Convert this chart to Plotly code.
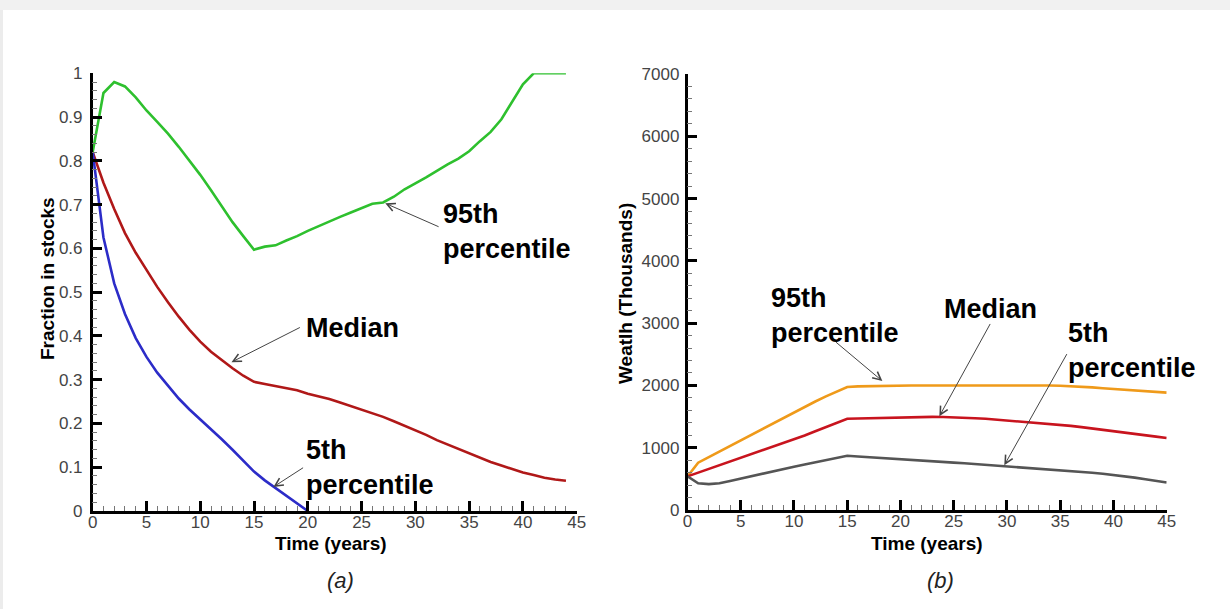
import plotly.graph_objects as go

# ---------------- data ----------------
years_a = list(range(0, 45))
frac_95 = [0.82, 0.955, 0.98, 0.97, 0.945, 0.915, 0.889, 0.862, 0.832, 0.80,
           0.768, 0.733, 0.695, 0.66, 0.628, 0.597, 0.604, 0.607, 0.618, 0.628,
           0.64, 0.651, 0.662, 0.672, 0.682, 0.692, 0.702, 0.705, 0.718, 0.735,
           0.748, 0.762, 0.777, 0.792, 0.805, 0.822, 0.845, 0.866, 0.895, 0.935,
           0.975, 1.0, 1.0, 1.0, 1.0]
frac_med = [0.82, 0.75, 0.69, 0.635, 0.59, 0.55, 0.512, 0.477, 0.444, 0.414,
            0.387, 0.364, 0.344, 0.326, 0.309, 0.295, 0.29, 0.285, 0.28, 0.276,
            0.268, 0.262, 0.256, 0.248, 0.24, 0.232, 0.224, 0.215, 0.205, 0.195,
            0.184, 0.174, 0.162, 0.152, 0.142, 0.132, 0.122, 0.112, 0.104, 0.096,
            0.088, 0.082, 0.076, 0.072, 0.069]
years_a5 = list(range(0, 21))
frac_05 = [0.82, 0.625, 0.52, 0.45, 0.395, 0.352, 0.316, 0.286, 0.257, 0.232,
           0.21, 0.188, 0.164, 0.14, 0.115, 0.09, 0.07, 0.052, 0.035, 0.018, 0.0]

years_b = list(range(0, 46))
wealth_95 = [540, 760, 850, 940, 1030, 1120, 1210, 1300, 1390, 1480,
             1570, 1657, 1742, 1825, 1902, 1975, 1985, 1990, 1993, 1995,
             1997, 1998, 1999, 2000, 2000, 2000, 2000, 2000, 2000, 2000,
             2000, 2000, 2000, 2000, 2000, 1995, 1990, 1980, 1968, 1955,
             1942, 1930, 1918, 1905, 1895, 1885]
wealth_med = [540, 600, 660, 720, 780, 840, 900, 960, 1015, 1072,
              1130, 1195, 1265, 1330, 1400, 1465, 1470, 1475, 1480, 1485,
              1490, 1492, 1494, 1495, 1494, 1490, 1482, 1473, 1465, 1452,
              1440, 1427, 1413, 1400, 1385, 1370, 1350, 1330, 1310, 1290,
              1270, 1245, 1220, 1200, 1178, 1155]
wealth_05 = [540, 430, 415, 430, 465, 505, 545, 585, 625, 660,
             695, 730, 765, 800, 835, 870, 860, 848, 835, 822,
             810, 800, 790, 780, 770, 760, 750, 738, 726, 712,
             700, 690, 678, 665, 652, 640, 626, 612, 598, 582,
             565, 545, 520, 495, 470, 440]

# ---------------- figure ----------------
FONT = "Liberation Sans, Arial, Helvetica, sans-serif"
W, H = 1230, 609
fig = go.Figure()

def line(x, y, color, xa, ya):
    fig.add_trace(go.Scatter(x=x, y=y, mode="lines", line=dict(color=color, width=2.6),
                             xaxis=xa, yaxis=ya, cliponaxis=False, showlegend=False,
                             hoverinfo="skip"))

line(years_a, frac_95, "#2ec02e", "x", "y")
line(years_a, frac_med, "#b01818", "x", "y")
line(years_a5, frac_05, "#2c2cc8", "x", "y")
line(years_b, wealth_95, "#ef9a1a", "x2", "y2")
line(years_b, wealth_med, "#c8141e", "x2", "y2")
line(years_b, wealth_05, "#555555", "x2", "y2")

def px_x(p):
    return p / W
def px_y(p):
    return 1 - p / H

TICKFONT = dict(family=FONT, size=17, color="#444444")
axis_common = dict(showline=True, linecolor="black", linewidth=2.5, showgrid=False, zeroline=False,
                   ticks="inside", ticklen=10, tickwidth=2.5, tickcolor="black",
                   tickfont=TICKFONT, automargin=False)
minor_x = dict(ticks="inside", dtick=1, ticklen=5, tickwidth=1, tickcolor="#777777")

fig.update_layout(
    width=W, height=H, margin=dict(l=0, r=0, t=0, b=0),
    paper_bgcolor="white", plot_bgcolor="white",
    xaxis=dict(domain=[px_x(92.7), px_x(576.7)], range=[0, 45], dtick=5, anchor="y",
               minor=minor_x, ticklabelstandoff=-6, **axis_common),
    yaxis=dict(domain=[px_y(511), px_y(73.3)], range=[0, 1], dtick=0.1, anchor="x",
               minor=dict(ticks="inside", dtick=0.02, ticklen=5, tickwidth=1, tickcolor="#777777"),
               ticklabelstandoff=4, **axis_common),
    xaxis2=dict(domain=[px_x(687.5), px_x(1166.7)], range=[0, 45], dtick=5, anchor="y2",
                minor=minor_x, ticklabelstandoff=-6, **axis_common),
    yaxis2=dict(domain=[px_y(510), px_y(74)], range=[0, 7000], dtick=1000, anchor="x2",
                minor=dict(ticks="inside", dtick=200, ticklen=5, tickwidth=1, tickcolor="#777777"),
                ticklabelstandoff=2, **axis_common),
)

TITLEFONT = dict(family=FONT, size=19, color="black")
def paper_text(x, y, text, font, angle=0, xanchor="center", yanchor="middle"):
    fig.add_annotation(x=px_x(x), y=px_y(y), xref="paper", yref="paper", text=text,
                       showarrow=False, textangle=angle, xanchor=xanchor, yanchor=yanchor,
                       align="left", font=font, borderpad=0)

# axis titles
paper_text(331, 543, "<b>Time (years)</b>", TITLEFONT)
paper_text(47, 278, "<b>Fraction in stocks</b>", TITLEFONT, angle=-90)
paper_text(927, 543, "<b>Time (years)</b>", TITLEFONT)
paper_text(625, 294, "<b>Weatlh (Thousands)</b>", TITLEFONT, angle=-90)

lab_font = dict(family=FONT, size=27, color="black")

def label(x, y, text):
    paper_text(x, y, "<b>" + text + "</b>", lab_font, xanchor="left", yanchor="middle")

def arrow(xref, yref, tail, head):
    fig.add_annotation(x=head[0], y=head[1], ax=tail[0], ay=tail[1], xref=xref, yref=yref,
                       axref=xref, ayref=yref, text="", showarrow=True, arrowhead=5,
                       arrowsize=1.6, arrowwidth=1, arrowcolor="#444444", standoff=0)

# left panel labels
label(442, 231, "95th<br>percentile")
arrow("x", "y", (32.3, 0.648), (27.2, 0.703))
label(305, 328, "Median")
arrow("x", "y", (19.4, 0.421), (12.9, 0.340))
label(305, 468, "5th<br>percentile")
arrow("x", "y", (19.7, 0.101), (16.8, 0.055))

# right panel labels
label(770, 315, "95th<br>percentile")
arrow("x2", "y2", (13.8, 2715), (18.3, 2070))
label(943, 309, "Median")
arrow("x2", "y2", (28.5, 3011), (23.65, 1505))
label(1067, 350, "5th<br>percentile")
arrow("x2", "y2", (35.7, 2527), (29.75, 718))

# captions
CAPFONT = dict(family=FONT, size=22, color="#222222")
paper_text(340, 580, "<i>(a)</i>", CAPFONT)
paper_text(940, 580, "<i>(b)</i>", CAPFONT)

# card shadow at top / left
fig.add_shape(type="rect", xref="paper", yref="paper", x0=0, x1=1, y0=px_y(10), y1=1,
              fillcolor="#f1f1f1", line=dict(width=0), layer="below")
fig.add_shape(type="rect", xref="paper", yref="paper", x0=0, x1=px_x(3), y0=0, y1=px_y(10),
              fillcolor="#ececec", line=dict(width=0), layer="below")

fig.write_html("out.html", config={"displayModeBar": False},
               post_script="document.body.style.margin='0px';")
